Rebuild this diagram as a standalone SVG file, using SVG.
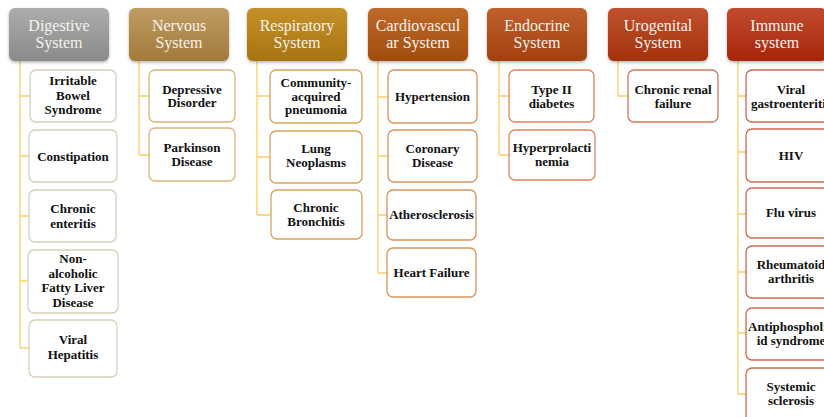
<svg xmlns="http://www.w3.org/2000/svg" width="824" height="417" viewBox="0 0 824 417">
<defs>
<linearGradient id="g1" x1="0" y1="0" x2="0" y2="1"><stop offset="0" stop-color="#acacac"/><stop offset="1" stop-color="#8a8a8a"/></linearGradient>
<linearGradient id="g2" x1="0" y1="0" x2="0" y2="1"><stop offset="0" stop-color="#bf9c62"/><stop offset="1" stop-color="#a27a3c"/></linearGradient>
<linearGradient id="g3" x1="0" y1="0" x2="0" y2="1"><stop offset="0" stop-color="#c4902a"/><stop offset="1" stop-color="#a87410"/></linearGradient>
<linearGradient id="g4" x1="0" y1="0" x2="0" y2="1"><stop offset="0" stop-color="#bf6a2a"/><stop offset="1" stop-color="#a04c0e"/></linearGradient>
<linearGradient id="g5" x1="0" y1="0" x2="0" y2="1"><stop offset="0" stop-color="#c0602e"/><stop offset="1" stop-color="#a2400e"/></linearGradient>
<linearGradient id="g6" x1="0" y1="0" x2="0" y2="1"><stop offset="0" stop-color="#c0522e"/><stop offset="1" stop-color="#a2320c"/></linearGradient>
<linearGradient id="g7" x1="0" y1="0" x2="0" y2="1"><stop offset="0" stop-color="#c24a30"/><stop offset="1" stop-color="#a6260a"/></linearGradient>
<filter id="sh" x="-10%" y="-10%" width="120%" height="130%"><feDropShadow dx="0" dy="1.5" stdDeviation="1.5" flood-color="#000" flood-opacity="0.3"/></filter>
</defs>
<style>
.hd{stroke:none;filter:url(#sh)}
.ht{font-family:"Liberation Serif","Times New Roman",serif;font-size:16px;fill:#f6f2ec;text-anchor:middle}
.bx{fill:#fff;stroke-width:1.3}
.ct{font-family:"Liberation Serif","Times New Roman",serif;font-size:13px;font-weight:bold;fill:#111;text-anchor:middle}
.cn{fill:none;stroke:#f9cf6a;stroke-width:1.3}
.b1{stroke:#d8cfba}.b2{stroke:#dcb577}.b3{stroke:#d9a355}.b4{stroke:#d8925a}.b5{stroke:#d8865e}.b6{stroke:#d47858}.b7{stroke:#d06852}
</style>
<rect width="824" height="417" fill="#fff"/>
<g id="connectors">
<path class="cn" d="M20 61V348M20 96H30M20 156H30M20 216H30M20 281H28M20 348H30"/>
<path class="cn" d="M139 61V155M139 96H149M139 155H149"/>
<path class="cn" d="M257 61V215M257 96H270M257 157H270M257 215H270"/>
<path class="cn" d="M378 61V273M378 97H388M378 156H388M378 215H388M378 273H388"/>
<path class="cn" d="M499 61V155M499 96H509M499 155H509"/>
<path class="cn" d="M618 61V96H628"/>
<path class="cn" d="M738 61V394M738 96H746M738 152H746M738 214H746M738 272H746M738 333H746M738 394H746"/>
</g>
<g id="digestive">
<rect class="hd" x="9" y="8" width="100" height="53" rx="6" fill="url(#g1)"/>
<text class="ht" x="59" y="31">Digestive<tspan x="59" dy="17">System</tspan></text>
</g>
<g id="d1"><rect class="bx b1" x="30" y="70" width="86" height="52" rx="6"/><text class="ct" x="73" y="85">Irritable<tspan x="73" dy="14.5">Bowel</tspan><tspan x="73" dy="14.5">Syndrome</tspan></text></g>
<g id="d2"><rect class="bx b1" x="29" y="130" width="88" height="52" rx="6"/><text class="ct" x="73" y="160.5">Constipation</text></g>
<g id="d3"><rect class="bx b1" x="29" y="190" width="87" height="52" rx="6"/><text class="ct" x="73" y="213">Chronic<tspan x="73" dy="14.5">enteritis</tspan></text></g>
<g id="d4"><rect class="bx b1" x="28" y="250" width="90" height="63" rx="6"/><text class="ct" x="73" y="263">Non-<tspan x="73" dy="14.7">alcoholic</tspan><tspan x="73" dy="14.7">Fatty Liver</tspan><tspan x="73" dy="14.7">Disease</tspan></text></g>
<g id="d5"><rect class="bx b1" x="29" y="320" width="88" height="57" rx="6"/><text class="ct" x="73" y="344">Viral<tspan x="73" dy="15">Hepatitis</tspan></text></g>

<g id="nervous">
<rect class="hd" x="129" y="8" width="100" height="53" rx="6" fill="url(#g2)"/>
<text class="ht" x="179" y="31">Nervous<tspan x="179" dy="17">System</tspan></text>
</g>
<g id="n1"><rect class="bx b2" x="149" y="70" width="86" height="52" rx="6"/><text class="ct" x="192" y="93.5">Depressive<tspan x="192" dy="13.5">Disorder</tspan></text></g>
<g id="n2"><rect class="bx b2" x="149" y="128" width="86" height="53" rx="6"/><text class="ct" x="192" y="152">Parkinson<tspan x="192" dy="14">Disease</tspan></text></g>

<g id="respiratory">
<rect class="hd" x="247" y="8" width="100" height="53" rx="6" fill="url(#g3)"/>
<text class="ht" x="297" y="31">Respiratory<tspan x="297" dy="17">System</tspan></text>
</g>
<g id="r1"><rect class="bx b3" x="270" y="70" width="92" height="53" rx="6"/><text class="ct" x="316" y="87">Community-<tspan x="316" dy="13.5">acquired</tspan><tspan x="316" dy="13.5">pneumonia</tspan></text></g>
<g id="r2"><rect class="bx b3" x="270" y="131" width="92" height="52" rx="6"/><text class="ct" x="316" y="153">Lung<tspan x="316" dy="14">Neoplasms</tspan></text></g>
<g id="r3"><rect class="bx b3" x="271" y="190" width="91" height="49" rx="6"/><text class="ct" x="316" y="212">Chronic<tspan x="316" dy="13.5">Bronchitis</tspan></text></g>

<g id="cardiovascular">
<rect class="hd" x="368" y="8" width="100" height="53" rx="6" fill="url(#g4)"/>
<text class="ht" x="418" y="31">Cardiovascul<tspan x="418" dy="17">ar System</tspan></text>
</g>
<g id="c1"><rect class="bx b4" x="388" y="70" width="89" height="53" rx="6"/><text class="ct" x="432.5" y="101">Hypertension</text></g>
<g id="c2"><rect class="bx b4" x="388" y="130" width="89" height="52" rx="6"/><text class="ct" x="432.5" y="153">Coronary<tspan x="432.5" dy="13.5">Disease</tspan></text></g>
<g id="c3"><rect class="bx b4" x="387" y="190" width="89" height="50" rx="6"/><text class="ct" x="431.5" y="219">Atherosclerosis</text></g>
<g id="c4"><rect class="bx b4" x="387" y="248" width="89" height="49" rx="6"/><text class="ct" x="431.5" y="277">Heart Failure</text></g>

<g id="endocrine">
<rect class="hd" x="487" y="8" width="100" height="53" rx="6" fill="url(#g5)"/>
<text class="ht" x="537" y="31">Endocrine<tspan x="537" dy="17">System</tspan></text>
</g>
<g id="e1"><rect class="bx b5" x="509" y="70" width="85" height="52" rx="6"/><text class="ct" x="551.5" y="94">Type II<tspan x="551.5" dy="13.5">diabetes</tspan></text></g>
<g id="e2"><rect class="bx b5" x="509" y="130" width="86" height="50" rx="6"/><text class="ct" x="552" y="152">Hyperprolacti<tspan x="552" dy="14">nemia</tspan></text></g>

<g id="urogenital">
<rect class="hd" x="608" y="8" width="100" height="53" rx="6" fill="url(#g6)"/>
<text class="ht" x="658" y="31">Urogenital<tspan x="658" dy="17">System</tspan></text>
</g>
<g id="u1"><rect class="bx b6" x="628" y="70" width="90" height="52" rx="6"/><text class="ct" x="673" y="94">Chronic renal<tspan x="673" dy="13.5">failure</tspan></text></g>

<g id="immune">
<rect class="hd" x="727" y="8" width="100" height="53" rx="6" fill="url(#g7)"/>
<text class="ht" x="777" y="31">Immune<tspan x="777" dy="17">system</tspan></text>
</g>
<g id="i1"><rect class="bx b7" x="746" y="70" width="90" height="52" rx="6"/><text class="ct" x="791" y="94">Viral<tspan x="791" dy="13.5">gastroenteritis</tspan></text></g>
<g id="i2"><rect class="bx b7" x="746" y="129" width="90" height="53" rx="6"/><text class="ct" x="791" y="160">HIV</text></g>
<g id="i3"><rect class="bx b7" x="746" y="188" width="90" height="50" rx="6"/><text class="ct" x="791" y="217">Flu virus</text></g>
<g id="i4"><rect class="bx b7" x="746" y="246" width="90" height="52" rx="6"/><text class="ct" x="791" y="269">Rheumatoid<tspan x="791" dy="13.5">arthritis</tspan></text></g>
<g id="i5"><rect class="bx b7" x="746" y="308" width="90" height="52" rx="6"/><text class="ct" x="791" y="331">Antiphospholip<tspan x="791" dy="13.5">id syndrome</tspan></text></g>
<g id="i6"><rect class="bx b7" x="746" y="368" width="90" height="56" rx="6"/><text class="ct" x="791" y="391">Systemic<tspan x="791" dy="13.5">sclerosis</tspan></text></g>
</svg>
